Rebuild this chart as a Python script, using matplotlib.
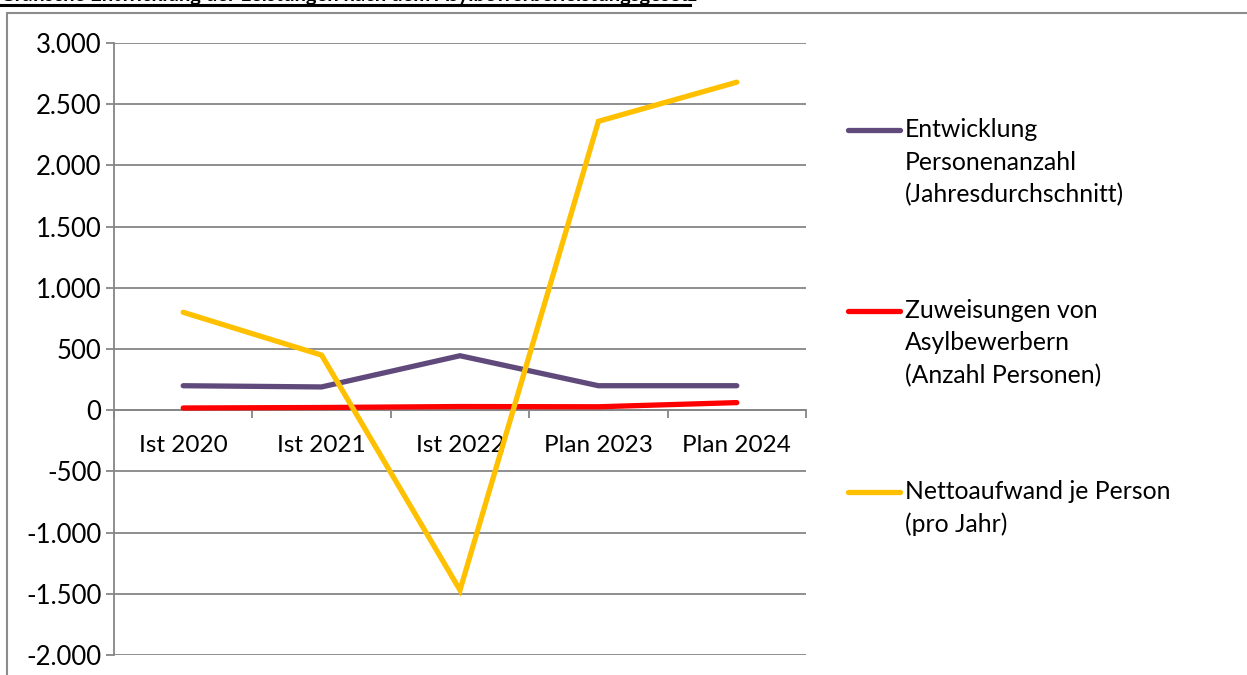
"""
Asylbewerberleistungen: Personenanzahl, Zuweisungen und Nettoaufwand je Person.
"""

import matplotlib

matplotlib.use("Agg")
import matplotlib.pyplot as plt
from matplotlib.lines import Line2D
from matplotlib.patches import Rectangle
from matplotlib.ticker import FuncFormatter

# --- Daten -----------------------------------------------------------------
jahre = ["Ist 2020", "Ist 2021", "Ist 2022", "Plan 2023", "Plan 2024"]
personenanzahl = [200, 190, 445, 200, 200]
zuweisungen = [18, 22, 30, 28, 62]
nettoaufwand = [800, 450, -1470, 2360, 2680]

serien_namen = [
    "Entwicklung\nPersonenanzahl\n(Jahresdurchschnitt)",
    "Zuweisungen von\nAsylbewerbern\n(Anzahl Personen)",
    "Nettoaufwand je Person\n(pro Jahr)",
]
serien_farben = ["#604A7B", "#FF0000", "#FFC000"]

y_ticks = list(range(-2000, 3001, 500))
titel = "Grafische Entwicklung der Leistungen nach dem Asylbewerberleistungsgesetz"

plt.rcParams["font.family"] = ["Lato", "DejaVu Sans"]
GRAU = "#868686"
W, H = 1247, 675


def main():
    fig = plt.figure(figsize=(W / 100, H / 100), dpi=100)
    ax = fig.add_axes([114 / W, 1 - 655 / H, (806 - 114) / W, (655 - 43) / H])

    # Rahmen des Diagrammbereichs (rechts/unten abgeschnitten)
    fig.add_artist(Rectangle((7 / W, -0.1), 1.2, 1 - 13 / H + 0.1,
                             transform=fig.transFigure, fill=False,
                             edgecolor="#8C8C8C", linewidth=1.5))

    # oben abgeschnittener Titel
    fig.text(0.0, 1 - 1 / H, titel, fontsize=14.5, fontweight="bold",
             ha="left", va="baseline")
    fig.add_artist(Line2D([0, 690 / W], [1 - 5 / H] * 2,
                          transform=fig.transFigure, color="black", linewidth=2.2))

    x = list(range(len(jahre)))
    serien = [personenanzahl, zuweisungen, nettoaufwand]
    for werte, farbe in zip(serien, serien_farben):
        ax.plot(x, werte, color=farbe, linewidth=3.8, solid_capstyle="round",
                solid_joinstyle="miter", zorder=3)

    ax.set_xlim(-0.5, len(jahre) - 0.5)
    ax.set_ylim(-2000, 3000)
    ax.set_yticks(y_ticks)
    ax.yaxis.set_major_formatter(FuncFormatter(lambda v, _: f"{v:,.0f}".replace(",", ".")))
    ax.grid(axis="y", color=GRAU, linewidth=1.3)
    ax.set_axisbelow(True)

    for s in ["top", "right"]:
        ax.spines[s].set_visible(False)
    ax.spines["left"].set_color(GRAU)
    ax.spines["left"].set_linewidth(1.3)
    ax.spines["bottom"].set_position(("data", 0))
    ax.spines["bottom"].set_color(GRAU)
    ax.spines["bottom"].set_linewidth(1.3)

    ax.tick_params(axis="y", length=6, width=1.3, color=GRAU, labelsize=18.5,
                   pad=3)
    ax.set_xticks([i - 0.5 for i in range(len(jahre) + 1)])
    ax.set_xticklabels([])
    ax.set_xticks(x, minor=True)
    ax.set_xticklabels(jahre, minor=True)
    ax.tick_params(axis="x", which="major", length=6, width=1.3, color=GRAU,
                   direction="out")
    ax.tick_params(axis="x", which="minor", length=0, labelsize=17.5, pad=18)

    # Legende rechts
    legende_y = [130, 311, 492]
    for name, farbe, ly in zip(serien_namen, serien_farben, legende_y):
        fy = 1 - ly / H
        fig.add_artist(Line2D([848 / W, 900 / W], [fy, fy], transform=fig.transFigure,
                              color=farbe, linewidth=3.8, solid_capstyle="round"))
        fig.text(905 / W, fy + 12 / H, name, fontsize=17.8, ha="left", va="top",
                 linespacing=1.5)

    fig.savefig("out.png", dpi=100)
    plt.close(fig)


if __name__ == "__main__":
    main()
